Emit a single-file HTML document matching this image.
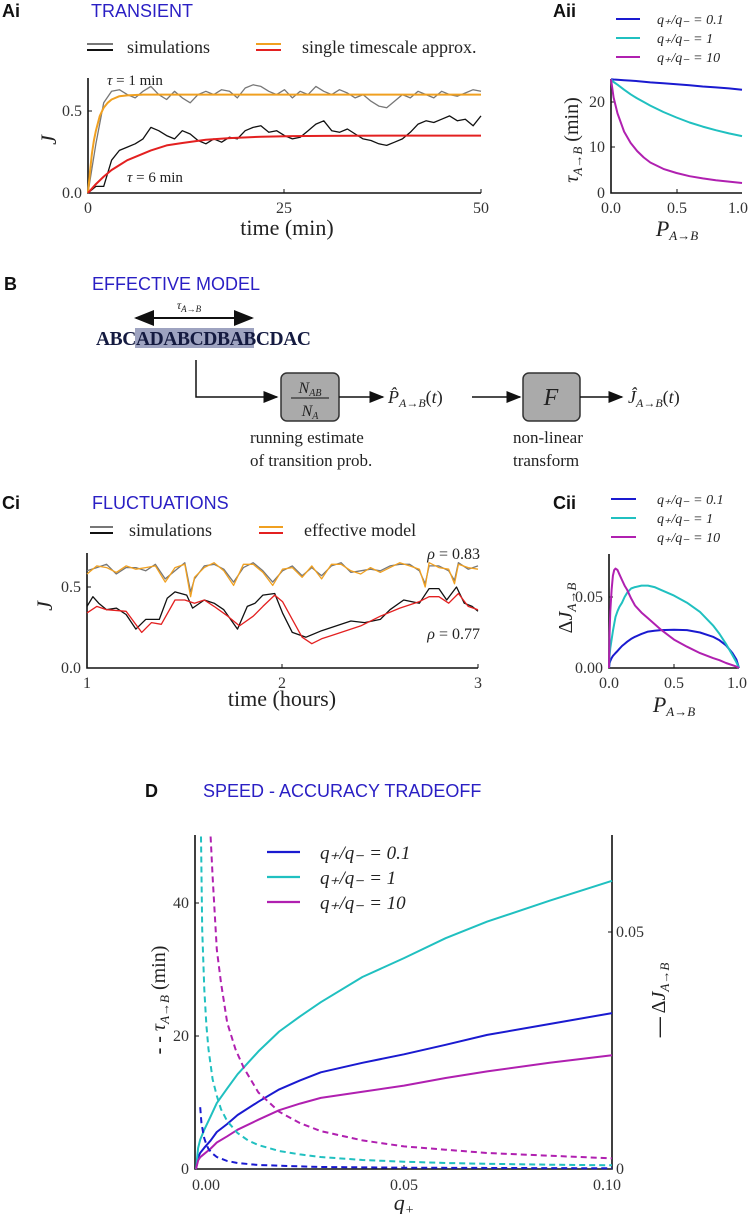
<!DOCTYPE html>
<html><head><meta charset="utf-8"><style>
html,body{margin:0;padding:0;background:#fff;}
svg{display:block;}
.t{font-family:"Liberation Serif",serif;fill:#222;}
.ttl{font-family:"Liberation Sans",sans-serif;font-size:18px;fill:#2a1fc4;}
.pl{font-family:"Liberation Sans",sans-serif;font-size:18px;font-weight:bold;fill:#111;}
.tk{font-family:"Liberation Serif",serif;font-size:16px;fill:#333;}
.ax{stroke:#111;stroke-width:1.6;fill:none;}
.tick{stroke:#111;stroke-width:1;}
</style></head><body>
<svg id="fig" width="748" height="1214" viewBox="0 0 748 1214" xmlns="http://www.w3.org/2000/svg">
<defs>
<clipPath id="clipD"><rect x="195" y="835" width="418" height="335"/></clipPath>
<marker id="arr" markerWidth="10" markerHeight="10" refX="9" refY="5" orient="auto"><path d="M0,1 L10,5 L0,9 z" fill="#111"/></marker>
<marker id="arrS" markerWidth="10" markerHeight="10" refX="1" refY="5" orient="auto"><path d="M10,1 L0,5 L10,9 z" fill="#111"/></marker>
</defs>

<!-- Panel Ai -->
<g>
<text class="pl" x="2" y="17">Ai</text>
<text class="ttl" x="91" y="17">TRANSIENT</text>
<g>
<line x1="87" y1="44" x2="113" y2="44" stroke="#777" stroke-width="2"/><line x1="87" y1="50" x2="113" y2="50" stroke="#111" stroke-width="2"/>
<text class="t" x="127" y="53" font-size="18">simulations</text>
<line x1="256" y1="44" x2="281" y2="44" stroke="#f0a020" stroke-width="2"/><line x1="256" y1="50" x2="281" y2="50" stroke="#e32020" stroke-width="2"/>
<text class="t" x="302" y="53" font-size="18">single timescale approx.</text>
</g>
<path class="ax" d="M88,78 V193 H481"/>
<g class="tick"><line x1="88" y1="111" x2="92" y2="111"/><line x1="284" y1="193" x2="284" y2="189"/><line x1="481" y1="193" x2="481" y2="189"/></g>
<text class="tk" x="82" y="198" text-anchor="end">0.0</text>
<text class="tk" x="82" y="116" text-anchor="end">0.5</text>
<text class="tk" x="88" y="213" text-anchor="middle">0</text>
<text class="tk" x="284" y="213" text-anchor="middle">25</text>
<text class="tk" x="481" y="213" text-anchor="middle">50</text>
<text class="t" x="287" y="235" font-size="22" text-anchor="middle">time (min)</text>
<text class="t" x="56" y="140" font-size="22" font-style="italic" transform="rotate(-90 56 140)" text-anchor="middle">J</text>
<text class="t" x="107" y="85" font-size="15"><tspan font-style="italic">τ</tspan> = 1 min</text>
<text class="t" x="127" y="182" font-size="15"><tspan font-style="italic">τ</tspan> = 6 min</text>
<g id="gAi"></g>
</g>

<!-- Panel Aii -->
<g>
<text class="pl" x="553" y="17">Aii</text>
<g>
<line x1="616" y1="19" x2="640" y2="19" stroke="#1a1ad0" stroke-width="2"/>
<text class="t" x="657" y="24" font-size="14" font-style="italic">q₊/q₋ = 0.1</text>
<line x1="616" y1="38" x2="640" y2="38" stroke="#20c0c0" stroke-width="2"/>
<text class="t" x="657" y="43" font-size="14" font-style="italic">q₊/q₋ = 1</text>
<line x1="616" y1="57" x2="640" y2="57" stroke="#b020b0" stroke-width="2"/>
<text class="t" x="657" y="62" font-size="14" font-style="italic">q₊/q₋ = 10</text>
</g>
<path class="ax" d="M611,79 V193 H742"/>
<g class="tick"><line x1="611" y1="147" x2="615" y2="147"/><line x1="611" y1="102" x2="615" y2="102"/><line x1="677" y1="193" x2="677" y2="189"/></g>
<text class="tk" x="605" y="198" text-anchor="end">0</text>
<text class="tk" x="605" y="152" text-anchor="end">10</text>
<text class="tk" x="605" y="107" text-anchor="end">20</text>
<text class="tk" x="611" y="213" text-anchor="middle">0.0</text>
<text class="tk" x="677" y="213" text-anchor="middle">0.5</text>
<text class="tk" x="738" y="213" text-anchor="middle">1.0</text>
<text class="t" x="677" y="236" font-size="22" font-style="italic" text-anchor="middle">P<tspan font-size="13" dy="4">A→B</tspan></text>
<text class="t" x="578" y="140" font-size="20" transform="rotate(-90 578 140)" text-anchor="middle"><tspan font-style="italic">τ</tspan><tspan font-size="13" font-style="italic" dy="4">A→B</tspan><tspan dy="-4">  (min)</tspan></text>
<g id="gAii"></g>
</g>

<!-- Panel B -->
<g>
<text class="pl" x="4" y="290">B</text>
<text class="ttl" x="92" y="290">EFFECTIVE MODEL</text>
<text class="t" x="189" y="309" font-size="12" font-style="italic" text-anchor="middle">τ<tspan font-size="9" dy="3">A→B</tspan></text>
<line x1="136" y1="318" x2="252" y2="318" stroke="#111" stroke-width="2" marker-end="url(#arr)" marker-start="url(#arrS)"/>
<rect x="135" y="328" width="119" height="20" fill="#9ea3c0"/>
<text x="96" y="345" font-family="Liberation Serif,serif" font-weight="bold" font-size="19.5" fill="#141a40" textLength="215">ABCADABCDBABCDAC</text>
<path d="M196,360 V397 H277" stroke="#111" stroke-width="1.5" fill="none" marker-end="url(#arr)"/>
<rect x="281" y="373" width="58" height="48" rx="6" fill="#aaa" stroke="#333" stroke-width="1.5"/>
<text class="t" x="310" y="393" font-size="16" font-style="italic" text-anchor="middle">N<tspan font-size="10" dy="3">AB</tspan></text>
<line x1="291" y1="398" x2="329" y2="398" stroke="#111" stroke-width="1"/>
<text class="t" x="310" y="416" font-size="16" font-style="italic" text-anchor="middle">N<tspan font-size="10" dy="3">A</tspan></text>
<line x1="339" y1="397" x2="383" y2="397" stroke="#111" stroke-width="1.5" marker-end="url(#arr)"/>
<text class="t" x="388" y="403" font-size="18" font-style="italic">P̂<tspan font-size="12" dy="4">A→B</tspan><tspan dy="-4" font-style="normal">(</tspan>t<tspan font-style="normal">)</tspan></text>
<line x1="472" y1="397" x2="520" y2="397" stroke="#111" stroke-width="1.5" marker-end="url(#arr)"/>
<rect x="523" y="373" width="57" height="48" rx="6" fill="#aaa" stroke="#333" stroke-width="1.5"/>
<text class="t" x="551" y="405" font-size="24" font-style="italic" text-anchor="middle">F</text>
<line x1="580" y1="397" x2="622" y2="397" stroke="#111" stroke-width="1.5" marker-end="url(#arr)"/>
<text class="t" x="628" y="403" font-size="18" font-style="italic">Ĵ<tspan font-size="12" dy="4">A→B</tspan><tspan dy="-4" font-style="normal">(</tspan>t<tspan font-style="normal">)</tspan></text>
<text class="t" x="250" y="443" font-size="17">running estimate</text>
<text class="t" x="250" y="466" font-size="17">of transition prob.</text>
<text class="t" x="513" y="443" font-size="17">non-linear</text>
<text class="t" x="513" y="466" font-size="17">transform</text>
</g>

<!-- Panel Ci -->
<g>
<text class="pl" x="2" y="509">Ci</text>
<text class="ttl" x="92" y="509">FLUCTUATIONS</text>
<g>
<line x1="90" y1="527" x2="113" y2="527" stroke="#777" stroke-width="2"/><line x1="90" y1="533" x2="113" y2="533" stroke="#111" stroke-width="2"/>
<text class="t" x="129" y="536" font-size="18">simulations</text>
<line x1="259" y1="527" x2="283" y2="527" stroke="#f0a020" stroke-width="2"/><line x1="259" y1="533" x2="283" y2="533" stroke="#e32020" stroke-width="2"/>
<text class="t" x="304" y="536" font-size="18">effective model</text>
</g>
<path class="ax" d="M87,553 V668 H478"/>
<g class="tick"><line x1="87" y1="587" x2="91" y2="587"/><line x1="282" y1="668" x2="282" y2="664"/><line x1="478" y1="668" x2="478" y2="664"/></g>
<text class="tk" x="81" y="673" text-anchor="end">0.0</text>
<text class="tk" x="81" y="592" text-anchor="end">0.5</text>
<text class="tk" x="87" y="688" text-anchor="middle">1</text>
<text class="tk" x="282" y="688" text-anchor="middle">2</text>
<text class="tk" x="478" y="688" text-anchor="middle">3</text>
<text class="t" x="282" y="706" font-size="22" text-anchor="middle">time (hours)</text>
<text class="t" x="52" y="606" font-size="22" font-style="italic" transform="rotate(-90 52 606)" text-anchor="middle">J</text>
<text class="t" x="480" y="559" font-size="16" text-anchor="end"><tspan font-style="italic">ρ</tspan> = 0.83</text>
<text class="t" x="480" y="639" font-size="16" text-anchor="end"><tspan font-style="italic">ρ</tspan> = 0.77</text>
<g id="gCi"></g>
</g>

<!-- Panel Cii -->
<g>
<text class="pl" x="553" y="509">Cii</text>
<g>
<line x1="611" y1="499" x2="636" y2="499" stroke="#1a1ad0" stroke-width="2"/>
<text class="t" x="657" y="504" font-size="14" font-style="italic">q₊/q₋ = 0.1</text>
<line x1="611" y1="518" x2="636" y2="518" stroke="#20c0c0" stroke-width="2"/>
<text class="t" x="657" y="523" font-size="14" font-style="italic">q₊/q₋ = 1</text>
<line x1="611" y1="537" x2="636" y2="537" stroke="#b020b0" stroke-width="2"/>
<text class="t" x="657" y="542" font-size="14" font-style="italic">q₊/q₋ = 10</text>
</g>
<path class="ax" d="M609,554 V668 H739"/>
<g class="tick"><line x1="609" y1="597" x2="613" y2="597"/><line x1="674" y1="668" x2="674" y2="664"/></g>
<text class="tk" x="603" y="673" text-anchor="end">0.00</text>
<text class="tk" x="603" y="602" text-anchor="end">0.05</text>
<text class="tk" x="609" y="688" text-anchor="middle">0.0</text>
<text class="tk" x="674" y="688" text-anchor="middle">0.5</text>
<text class="tk" x="737" y="688" text-anchor="middle">1.0</text>
<text class="t" x="674" y="712" font-size="22" font-style="italic" text-anchor="middle">P<tspan font-size="13" dy="4">A→B</tspan></text>
<text class="t" x="572" y="608" font-size="20" transform="rotate(-90 572 608)" text-anchor="middle">Δ<tspan font-style="italic">J</tspan><tspan font-size="13" font-style="italic" dy="4">A→B</tspan></text>
<g id="gCii"></g>
</g>

<!-- Panel D -->
<g>
<text class="pl" x="145" y="797">D</text>
<text class="ttl" x="203" y="797">SPEED - ACCURACY TRADEOFF</text>
<path class="ax" d="M195,835 V1169 H612 V835"/>
<g class="tick"><line x1="195" y1="1036" x2="199" y2="1036"/><line x1="195" y1="903" x2="199" y2="903"/><line x1="612" y1="932" x2="608" y2="932"/><line x1="404" y1="1169" x2="404" y2="1165"/></g>
<text class="tk" x="189" y="1174" text-anchor="end">0</text>
<text class="tk" x="189" y="1041" text-anchor="end">20</text>
<text class="tk" x="189" y="908" text-anchor="end">40</text>
<text class="tk" x="616" y="1174">0</text>
<text class="tk" x="616" y="937">0.05</text>
<text class="tk" x="206" y="1190" text-anchor="middle">0.00</text>
<text class="tk" x="404" y="1190" text-anchor="middle">0.05</text>
<text class="tk" x="607" y="1190" text-anchor="middle">0.10</text>
<text class="t" x="404" y="1210" font-size="22" font-style="italic" text-anchor="middle">q<tspan font-size="14" dy="4">+</tspan></text>
<text class="t" x="165" y="1000" font-size="20" transform="rotate(-90 165 1000)" text-anchor="middle"><tspan font-weight="bold">- - </tspan>  <tspan font-style="italic">τ</tspan><tspan font-size="13" font-style="italic" dy="4">A→B</tspan><tspan dy="-4">  (min)</tspan></text>
<text class="t" x="665" y="1000" font-size="20" transform="rotate(-90 665 1000)" text-anchor="middle"><tspan font-weight="bold">—</tspan>    Δ<tspan font-style="italic">J</tspan><tspan font-size="13" font-style="italic" dy="4">A→B</tspan></text>
<g>
<line x1="267" y1="852" x2="300" y2="852" stroke="#1a1ad0" stroke-width="2.2"/>
<text class="t" x="320" y="859" font-size="19" font-style="italic">q₊/q₋ = 0.1</text>
<line x1="267" y1="877" x2="300" y2="877" stroke="#20c0c0" stroke-width="2.2"/>
<text class="t" x="320" y="884" font-size="19" font-style="italic">q₊/q₋ = 1</text>
<line x1="267" y1="902" x2="300" y2="902" stroke="#b020b0" stroke-width="2.2"/>
<text class="t" x="320" y="909" font-size="19" font-style="italic">q₊/q₋ = 10</text>
</g>
<g id="gD" clip-path="url(#clipD)"></g>
</g>
</svg>
<script>
// ---- Ai data ----
const aiSimTime = [0,1,2,3,4,5,6,7,8,9,10,11,12,13,14,15,16,17,18,19,20,21,22,23,24,25,26,27,28,29,30,31,32,33,34,35,36,37,38,39,40,41,42,43,44,45,46,47,48,49,50];
const aiFastSim = [0,0.3,0.55,0.62,0.63,0.6,0.58,0.62,0.65,0.6,0.57,0.62,0.58,0.55,0.6,0.62,0.6,0.63,0.62,0.58,0.64,0.66,0.65,0.62,0.6,0.63,0.58,0.62,0.6,0.65,0.62,0.6,0.63,0.61,0.58,0.6,0.56,0.53,0.52,0.56,0.6,0.58,0.62,0.6,0.58,0.62,0.6,0.59,0.61,0.63,0.62];
const aiSlowSim = [0,0.04,0.04,0.2,0.26,0.28,0.3,0.33,0.4,0.38,0.35,0.33,0.38,0.36,0.32,0.3,0.33,0.31,0.34,0.33,0.38,0.4,0.41,0.37,0.38,0.35,0.33,0.34,0.38,0.42,0.44,0.38,0.37,0.39,0.36,0.33,0.32,0.3,0.29,0.31,0.33,0.37,0.42,0.44,0.43,0.45,0.47,0.44,0.45,0.41,0.47];
const aiFastModelT = [0,0.25,0.5,0.75,1,1.5,2,2.5,3,4,5,7,10,50];
const aiFastModel = [0,0.13,0.24,0.32,0.38,0.47,0.52,0.55,0.57,0.59,0.595,0.6,0.6,0.6];
const aiSlowModelT = [0,1,2,3,4,5,6,8,10,12,15,18,22,26,30,40,50];
const aiSlowModel = [0,0.054,0.1,0.14,0.17,0.2,0.22,0.26,0.29,0.305,0.325,0.335,0.343,0.347,0.348,0.35,0.35];
// ---- Aii data ----
const aiiP = [0,0.02,0.05,0.1,0.15,0.2,0.25,0.3,0.4,0.5,0.6,0.7,0.8,0.9,1];
const aiiTauLow = [25,24.95,24.9,24.8,24.7,24.6,24.45,24.3,24.1,23.9,23.7,23.4,23.2,23.0,22.7];
const aiiTauMid = [25,24.4,23.8,22.7,21.7,20.8,20,19.2,17.8,16.6,15.5,14.6,13.8,13.1,12.5];
const aiiTauHigh = [25,21,17.5,13.5,11,9.2,7.8,6.7,5.3,4.4,3.7,3.2,2.8,2.5,2.2];
// ---- Ci data ----
const ciModelT = [1,1.05,1.1,1.15,1.2,1.25,1.3,1.35,1.4,1.45,1.5,1.53,1.55,1.6,1.65,1.7,1.75,1.8,1.85,1.9,1.95,2,2.05,2.1,2.15,2.2,2.25,2.3,2.35,2.4,2.45,2.5,2.55,2.6,2.65,2.7,2.73,2.75,2.8,2.85,2.88,2.9,2.95,3];
const ciFastModel = [0.58,0.63,0.62,0.59,0.63,0.61,0.62,0.63,0.53,0.62,0.64,0.44,0.56,0.62,0.65,0.6,0.51,0.64,0.64,0.59,0.51,0.61,0.62,0.56,0.63,0.55,0.64,0.64,0.6,0.58,0.62,0.59,0.62,0.65,0.63,0.61,0.5,0.65,0.62,0.61,0.52,0.64,0.62,0.61];
const ciFastSim = [0.6,0.62,0.64,0.58,0.62,0.62,0.6,0.64,0.55,0.6,0.65,0.47,0.55,0.63,0.64,0.61,0.53,0.62,0.65,0.6,0.53,0.6,0.63,0.57,0.62,0.57,0.63,0.65,0.59,0.6,0.61,0.6,0.63,0.64,0.64,0.6,0.52,0.63,0.63,0.6,0.54,0.65,0.61,0.63];
const ciSlowSimT = [1,1.03,1.06,1.1,1.15,1.2,1.25,1.3,1.37,1.41,1.45,1.51,1.54,1.6,1.65,1.7,1.77,1.82,1.86,1.9,1.96,2,2.05,2.12,2.2,2.3,2.35,2.42,2.5,2.55,2.62,2.7,2.75,2.8,2.84,2.89,2.93,2.97,3];
const ciSlowSim = [0.38,0.44,0.4,0.36,0.37,0.33,0.24,0.3,0.3,0.43,0.47,0.45,0.37,0.42,0.4,0.36,0.24,0.38,0.4,0.45,0.46,0.34,0.22,0.19,0.23,0.27,0.29,0.28,0.3,0.36,0.42,0.4,0.49,0.49,0.42,0.5,0.4,0.38,0.35];
const ciSlowModelT = [1,1.05,1.1,1.2,1.28,1.33,1.38,1.45,1.5,1.55,1.6,1.65,1.72,1.78,1.85,1.9,1.96,2,2.05,2.1,2.15,2.2,2.3,2.4,2.5,2.6,2.7,2.75,2.8,2.85,2.9,2.95,3];
const ciSlowModel = [0.34,0.38,0.36,0.35,0.22,0.28,0.27,0.42,0.42,0.4,0.42,0.38,0.32,0.26,0.32,0.38,0.45,0.41,0.3,0.19,0.15,0.18,0.22,0.26,0.32,0.37,0.41,0.44,0.44,0.4,0.46,0.38,0.36];
// ---- Cii data ----
const ciiP = [0,0.005,0.01,0.02,0.03,0.04,0.05,0.065,0.08,0.1,0.12,0.14,0.17,0.2,0.25,0.3,0.35,0.4,0.5,0.6,0.7,0.8,0.85,0.9,0.95,0.98,1];
const ciiLow = [0,0.0035,0.005,0.007,0.0085,0.0095,0.0105,0.012,0.0135,0.0155,0.017,0.0185,0.0205,0.022,0.024,0.0256,0.0263,0.0267,0.027,0.0267,0.025,0.022,0.0195,0.016,0.0105,0.006,0];
const ciiMid = [0,0.009,0.014,0.02,0.026,0.031,0.036,0.04,0.043,0.046,0.05,0.053,0.056,0.057,0.058,0.058,0.057,0.055,0.051,0.046,0.0395,0.03,0.024,0.017,0.009,0.004,0];
const ciiHigh = [0,0.025,0.04,0.055,0.065,0.069,0.07,0.069,0.066,0.062,0.058,0.055,0.049,0.044,0.039,0.035,0.031,0.027,0.02,0.015,0.0105,0.007,0.0055,0.0035,0.002,0.001,0];
// ---- D data ----
const dQ = [0,0.0005,0.001,0.002,0.0035,0.005,0.0075,0.01,0.015,0.02,0.025,0.03,0.04,0.05,0.06,0.07,0.085,0.1];
const dAccLow = [0,0.0024,0.0034,0.0045,0.006,0.0078,0.0095,0.0114,0.0142,0.0168,0.0187,0.0204,0.0224,0.0242,0.0262,0.0283,0.0306,0.0329];
const dAccMid = [0,0.0044,0.0062,0.0083,0.0111,0.0139,0.017,0.02,0.0248,0.029,0.0322,0.0352,0.0405,0.0445,0.0487,0.0522,0.0566,0.0608];
const dAccHigh = [0,0.0018,0.0025,0.0032,0.0043,0.0056,0.0069,0.0083,0.0104,0.0124,0.0138,0.015,0.0163,0.0176,0.0192,0.0206,0.0224,0.024];
const dTauLowQ = [0.001,0.0013,0.0017,0.002,0.0025,0.003,0.004,0.005,0.0075,0.01,0.015,0.02,0.03,0.05,0.1];
const dTauLow = [9.3,7,5.5,4.6,3.7,3,2.3,1.8,1.2,0.9,0.6,0.5,0.3,0.2,0.1];
const dTauMidQ = [0.0012,0.0015,0.002,0.0025,0.003,0.004,0.005,0.006,0.0075,0.01,0.0125,0.015,0.02,0.025,0.03,0.04,0.05,0.06,0.07,0.085,0.1];
const dTauMid = [50,36,27,21.6,18,13.5,11,9,7.2,5.4,4.3,3.6,2.7,2.2,1.8,1.35,1.1,0.9,0.78,0.64,0.55];
const dTauHighQ = [0.0035,0.004,0.005,0.006,0.0075,0.0095,0.0115,0.015,0.02,0.025,0.03,0.04,0.05,0.06,0.07,0.085,0.1];
const dTauHigh = [50,44,33,28,22,18,15.2,11.5,8.6,6.9,5.7,4.3,3.4,2.9,2.4,2.0,1.6];

const NS = 'http://www.w3.org/2000/svg';
function drawLine(gid, xs, ys, sx, sy, color, w, dash, name) {
  const g = document.getElementById(gid);
  const p = document.createElementNS(NS, 'polyline');
  p.setAttribute('points', xs.map((x, i) => sx(x).toFixed(1) + ',' + sy(ys[i]).toFixed(1)).join(' '));
  p.setAttribute('fill', 'none');
  p.setAttribute('stroke', color);
  p.setAttribute('stroke-width', w);
  p.setAttribute('stroke-linejoin', 'round');
  if (dash) p.setAttribute('stroke-dasharray', dash);
  
  
  g.appendChild(p);
}
const BLUE = '#1a1ad0', CYAN = '#20c0c0', MAG = '#b020b0';
const axA = t => 88 + t * 393 / 50, ayA = v => 193 - v * 164;
drawLine('gAi', aiSimTime, aiFastSim, axA, ayA, '#777', 1.3, null, 'sim-fast-line');
drawLine('gAi', aiSimTime, aiSlowSim, axA, ayA, '#111', 1.3, null, 'sim-slow-line');
drawLine('gAi', aiFastModelT, aiFastModel, axA, ayA, '#f0a020', 2, null, 'model-fast-line');
drawLine('gAi', aiSlowModelT, aiSlowModel, axA, ayA, '#e32020', 2, null, 'model-slow-line');
const axAii = p => 611 + p * 131, ayAii = v => 193 - v * 4.55;
drawLine('gAii', aiiP, aiiTauLow, axAii, ayAii, BLUE, 2, null, 'tau-ratio-0.1');
drawLine('gAii', aiiP, aiiTauMid, axAii, ayAii, CYAN, 2, null, 'tau-ratio-1');
drawLine('gAii', aiiP, aiiTauHigh, axAii, ayAii, MAG, 2, null, 'tau-ratio-10');
const axC = t => 87 + (t - 1) * 195.5, ayC = v => 668 - v * 162;
drawLine('gCi', ciModelT, ciFastSim, axC, ayC, '#777', 1.3, null, 'ci-sim-fast');
drawLine('gCi', ciModelT, ciFastModel, axC, ayC, '#f0a020', 1.3, null, 'ci-model-fast');
drawLine('gCi', ciSlowSimT, ciSlowSim, axC, ayC, '#111', 1.3, null, 'ci-sim-slow');
drawLine('gCi', ciSlowModelT, ciSlowModel, axC, ayC, '#e32020', 1.3, null, 'ci-model-slow');
const axCii = p => 609 + p * 130, ayCii = v => 668 - v * 1420;
drawLine('gCii', ciiP, ciiLow, axCii, ayCii, BLUE, 2, null, 'dj-ratio-0.1');
drawLine('gCii', ciiP, ciiMid, axCii, ayCii, CYAN, 2, null, 'dj-ratio-1');
drawLine('gCii', ciiP, ciiHigh, axCii, ayCii, MAG, 2, null, 'dj-ratio-10');
const axD = q => 196 + q * 4160, ayL = t => 1169 - t * 6.65, ayR = v => 1169 - v * 4740;
drawLine('gD', dQ, dAccLow, axD, ayR, BLUE, 2, null, 'accuracy-ratio-0.1');
drawLine('gD', dQ, dAccMid, axD, ayR, CYAN, 2, null, 'accuracy-ratio-1');
drawLine('gD', dQ, dAccHigh, axD, ayR, MAG, 2, null, 'accuracy-ratio-10');
drawLine('gD', dTauLowQ, dTauLow, axD, ayL, BLUE, 2, '6,4', 'speed-ratio-0.1');
drawLine('gD', dTauMidQ, dTauMid, axD, ayL, CYAN, 2, '6,4', 'speed-ratio-1');
drawLine('gD', dTauHighQ, dTauHigh, axD, ayL, MAG, 2, '6,4', 'speed-ratio-10');
</script>
</body></html>
